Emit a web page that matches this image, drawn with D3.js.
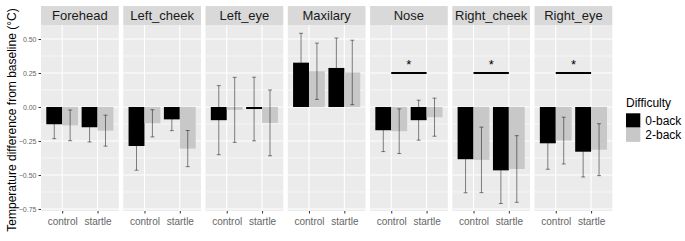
<!DOCTYPE html>
<html>
<head>
<meta charset="utf-8">
<script src="https://cdn.jsdelivr.net/npm/d3@7"></script>
<style>
  body { margin: 0; background: #fff; }
  text { font-family: "Liberation Sans", Arial, sans-serif; }
</style>
</head>
<body>
<div id="chart"></div>
<script>
// facet regions, x categories and fill groups
const regions = ["Forehead", "Left_cheek", "Left_eye", "Maxilary", "Nose", "Right_cheek", "Right_eye"];
const conditions = ["control", "startle"];
const difficulties = ["0-back", "2-back"];

// mean temperature change per region, [control, startle]
const mean0back = [[-0.127, -0.149], [-0.287, -0.091], [-0.097, -0.015], [0.326, 0.287], [-0.171, -0.097], [-0.384, -0.466], [-0.267, -0.329]];
const mean2back = [[-0.135, -0.174], [-0.120, -0.306], [-0.021, -0.117], [0.263, 0.254], [-0.178, -0.075], [-0.389, -0.456], [-0.247, -0.314]];
// error bar half-widths, same layout
const err0back = [[0.106, 0.108], [0.178, 0.083], [0.254, 0.234], [0.216, 0.220], [0.157, 0.147], [0.247, 0.244], [0.191, 0.186]];
const err2back = [[0.113, 0.114], [0.100, 0.133], [0.239, 0.242], [0.207, 0.237], [0.164, 0.140], [0.241, 0.245], [0.172, 0.191]];

// significance brackets
const sigRegions = ["Nose", "Right_cheek", "Right_eye"];
const sigLevel = 0.25;

const yTicks = [-0.75, -0.5, -0.25, 0, 0.25, 0.5];
const yMinor = [-0.625, -0.375, -0.125, 0.125, 0.375];

function main() {
    const W = 685, H = 241;
    const plot = {left: 41, right: 612.3, top: 25, bottom: 211, stripTop: 6};

    const svg = d3.select("#chart").append("svg")
        .attr("width", W).attr("height", H);

    // flatten arrays into rows
    const rows = [];
    regions.forEach((r, i) => {
        conditions.forEach((c, j) => {
            rows.push({region: r, cond: c, diff: "0-back", mean: mean0back[i][j], err: err0back[i][j]});
            rows.push({region: r, cond: c, diff: "2-back", mean: mean2back[i][j], err: err2back[i][j]});
        });
    });

    // scales
    const facet = d3.scaleBand().domain(regions)
        .range([plot.left, plot.right]).paddingInner(0.055).paddingOuter(0);
    const x = d3.scalePoint().domain(conditions)
        .range([0, facet.bandwidth()]).padding(0.6);
    const dodge = d3.scaleBand().domain(difficulties)
        .range([-0.45 * x.step(), 0.45 * x.step()]);
    const y = d3.scaleLinear().domain([-0.765, 0.603]).range([plot.bottom, plot.top]);
    const fill = d3.scaleOrdinal().domain(difficulties).range(["#000000", "#c8c8c8"]);

    regions.forEach(region => {
        const g = svg.append("g").attr("transform", `translate(${facet(region)},0)`);
        const bw = facet.bandwidth();

        // panel background + grid
        g.append("rect").attr("x", 0).attr("y", plot.top)
            .attr("width", bw).attr("height", plot.bottom - plot.top).attr("fill", "#ebebeb");
        g.selectAll(".minor").data(yMinor).join("line")
            .attr("x1", 0).attr("x2", bw)
            .attr("y1", d => y(d)).attr("y2", d => y(d))
            .attr("stroke", "#fff").attr("stroke-width", 0.6);
        g.selectAll(".major").data(yTicks).join("line")
            .attr("x1", 0).attr("x2", bw)
            .attr("y1", d => y(d)).attr("y2", d => y(d))
            .attr("stroke", "#fff").attr("stroke-width", 1.1);
        g.selectAll(".vgrid").data(conditions).join("line")
            .attr("x1", d => x(d)).attr("x2", d => x(d))
            .attr("y1", plot.top).attr("y2", plot.bottom)
            .attr("stroke", "#fff").attr("stroke-width", 1.1);

        // strip
        g.append("rect").attr("x", 0).attr("y", plot.stripTop)
            .attr("width", bw).attr("height", plot.top - plot.stripTop).attr("fill", "#d9d9d9");
        g.append("text").attr("x", bw / 2).attr("y", (plot.stripTop + plot.top) / 2 + 4.6)
            .attr("text-anchor", "middle").attr("font-size", 13).attr("fill", "#1a1a1a")
            .text(region);

        const data = rows.filter(d => d.region === region);

        // bars
        g.selectAll(".bar").data(data).join("rect")
            .attr("x", d => x(d.cond) + dodge(d.diff))
            .attr("width", dodge.bandwidth())
            .attr("y", d => y(Math.max(0, d.mean)))
            .attr("height", d => Math.abs(y(d.mean) - y(0)))
            .attr("fill", d => fill(d.diff));

        // error bars (semi-transparent black, so they vanish on the black bars)
        const cap = 2;
        const eb = g.selectAll(".err").data(data).join("g")
            .attr("transform", d => `translate(${x(d.cond) + dodge(d.diff) + dodge.bandwidth() / 2},0)`)
            .attr("stroke", "#000").attr("stroke-opacity", 0.6).attr("stroke-width", 0.8);
        eb.append("line").attr("x1", 0).attr("x2", 0)
            .attr("y1", d => y(d.mean + d.err)).attr("y2", d => y(d.mean - d.err));
        eb.append("line").attr("x1", -cap).attr("x2", cap)
            .attr("y1", d => y(d.mean + d.err)).attr("y2", d => y(d.mean + d.err));
        eb.append("line").attr("x1", -cap).attr("x2", cap)
            .attr("y1", d => y(d.mean - d.err)).attr("y2", d => y(d.mean - d.err));

        // significance bracket
        if (sigRegions.includes(region)) {
            g.append("line")
                .attr("x1", x(conditions[0])).attr("x2", x(conditions[1]))
                .attr("y1", y(sigLevel)).attr("y2", y(sigLevel))
                .attr("stroke", "#000").attr("stroke-width", 2);
            g.append("text")
                .attr("x", (x(conditions[0]) + x(conditions[1])) / 2)
                .attr("y", y(sigLevel) - 4)
                .attr("text-anchor", "middle").attr("font-size", 13).attr("fill", "#000")
                .text("*");
        }

        // x axis
        const xa = g.append("g").attr("transform", `translate(0,${plot.bottom})`)
            .call(d3.axisBottom(x).tickSize(2.5).tickPadding(4));
        xa.select(".domain").remove();
        xa.selectAll("line").attr("stroke", "#333");
        xa.selectAll("text").attr("font-size", 10).attr("fill", "#666")
            .attr("font-family", "Liberation Sans, Arial, sans-serif");
    });

    // y axis
    const ya = svg.append("g").attr("transform", `translate(${plot.left},0)`)
        .call(d3.axisLeft(y).tickValues(yTicks).tickFormat(d3.format(".2f")).tickSize(2.5).tickPadding(2));
    ya.select(".domain").remove();
    ya.selectAll("line").attr("stroke", "#333");
    ya.selectAll("text").attr("font-size", 7).attr("fill", "#666")
        .attr("font-family", "Liberation Sans, Arial, sans-serif");

    // y axis title
    svg.append("text")
        .attr("transform", `translate(16,${(plot.top + plot.bottom) / 2 + 2}) rotate(-90)`)
        .attr("text-anchor", "middle").attr("font-size", 12).attr("fill", "#000")
        .text("Temperature difference from baseline (°C)");

    // legend
    const lg = svg.append("g").attr("transform", "translate(626,0)");
    lg.append("text").attr("x", 0).attr("y", 107).attr("font-size", 12).attr("fill", "#000")
        .text("Difficulty");
    const key = 14.3;
    difficulties.forEach((d, i) => {
        lg.append("rect").attr("x", 0).attr("y", 113.3 + i * key)
            .attr("width", key).attr("height", key).attr("fill", fill(d));
        lg.append("text").attr("x", key + 5).attr("y", 113.3 + i * key + key / 2 + 4.2)
            .attr("font-size", 12).attr("fill", "#000").text(d);
    });
}

main();
</script>
</body>
</html>
